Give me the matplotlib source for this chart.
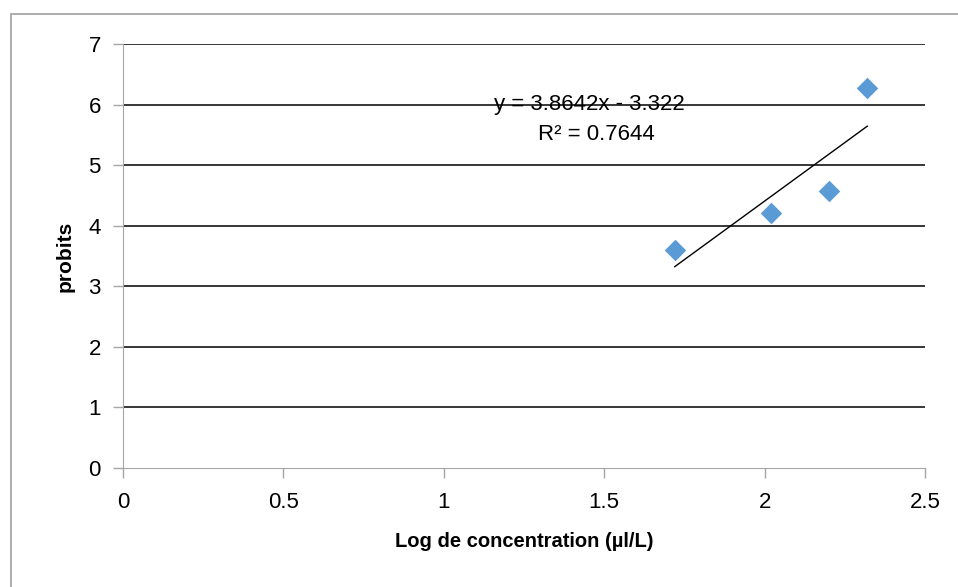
import numpy as np
import matplotlib.pyplot as plt
from matplotlib.patches import Rectangle

# dados
log_conc = [1.72, 2.02, 2.20, 2.32]
probits = [3.60, 4.21, 4.57, 6.28]
slope, intercept = 3.8642, -3.322
eq_text = "y = 3.8642x - 3.322"
r2_text = "R² = 0.7644"
x_ticks = [0, 0.5, 1, 1.5, 2, 2.5]
x_tick_labels = ["0", "0.5", "1", "1.5", "2", "2.5"]
y_ticks = [0, 1, 2, 3, 4, 5, 6, 7]

plt.rcParams['font.family'] = ['Liberation Sans', 'DejaVu Sans']

fig = plt.figure(figsize=(9.58, 5.87), dpi=100)
ax = fig.add_axes([123/958, 1 - 468/587, (925-123)/958, (468-44)/587])

# borda externa do gráfico (cortada à direita e em baixo)
fig.patches.append(Rectangle((11/958, -0.01), 1.0, 1 - 14/587 + 0.01,
                             transform=fig.transFigure, fill=False,
                             edgecolor='#a6a6a6', linewidth=1.3))

# linhas de grade
for yv in y_ticks[1:]:
    ax.axhline(yv, color='black', linewidth=1.1, zorder=1)

ax.scatter(log_conc, probits, marker='D', s=120, color='#5B9BD5', zorder=3,
           linewidths=0)

xl = np.array([min(log_conc), max(log_conc)])
ax.plot(xl, slope*xl + intercept, color='black', linewidth=1.0, zorder=2)

ax.text(1.455, 6.0, eq_text, ha='center', va='center', fontsize=16)
ax.text(1.475, 5.5, r2_text, ha='center', va='center', fontsize=16)

ax.set_xlim(0, 2.5)
ax.set_ylim(0, 7)
ax.set_xticks(x_ticks)
ax.set_xticklabels(x_tick_labels)
ax.set_yticks(y_ticks)
ax.tick_params(axis='both', labelsize=16, color='#a6a6a6', length=7, width=1)
ax.tick_params(axis='x', pad=10)
ax.tick_params(axis='y', pad=9)
for side in ['top', 'right']:
    ax.spines[side].set_visible(False)
for side in ['left', 'bottom']:
    ax.spines[side].set_color('#a6a6a6')

ax.set_xlabel("Log de concentration (µl/L)", fontsize=14.5, fontweight='bold', labelpad=14)
ax.set_ylabel("probits", fontsize=15, fontweight='bold', labelpad=10)

fig.savefig("out.png", dpi=100)
